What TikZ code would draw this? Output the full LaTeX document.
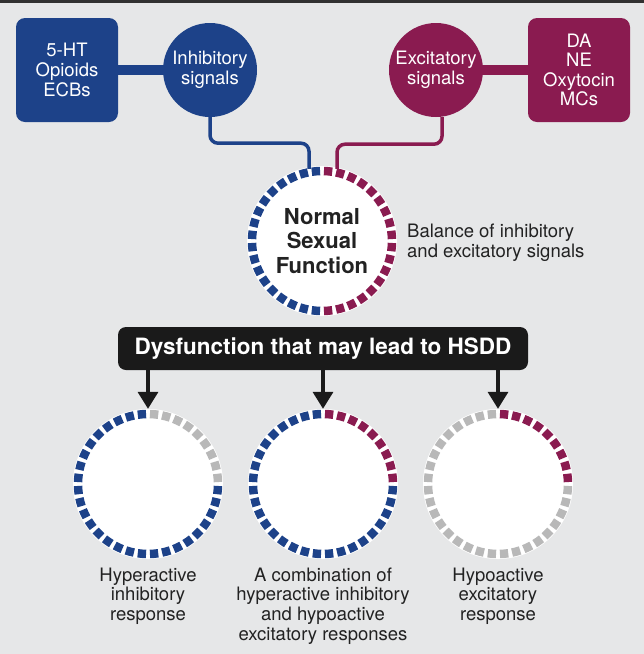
\documentclass[tikz,border=0pt]{standalone}
\usepackage{fontspec}
\setmainfont{TeX Gyre Heros}
\usetikzlibrary{arrows.meta,calc}
\definecolor{inhblue}{HTML}{1D4289}
\definecolor{excred}{HTML}{8A1B50}
\definecolor{dgrey}{HTML}{B8B8B8}
\definecolor{bgc}{HTML}{E6E7E8}
\definecolor{txt}{HTML}{222222}
\definecolor{banner}{HTML}{1A1A1A}
\newcommand{\dashring}[5]{%
  \foreach \k in {0,...,35}{%
    \pgfmathtruncatemacro\q{int(\k/9)}%
    \ifcase\q \def\rc{#2}\or \def\rc{#3}\or \def\rc{#4}\or \def\rc{#5}\fi
    \pgfmathsetmacro\th{5+10*\k}%
    \draw[line width=8.5pt, draw=\rc] (#1) ++(\th+3.4:70pt) arc[start angle=\th+3.4, end angle=\th-3.4, radius=70pt];
  }}
\tikzset{
  regtext/.style={font=\fontsize{18.5}{19.6}\selectfont, align=center, inner sep=0pt},
  boxnode/.style={rounded corners=9pt, minimum width=102pt, minimum height=104pt, inner sep=0pt, text=white, regtext},
  sigcirc/.style={circle, minimum size=94pt, inner sep=0pt, text=white, regtext},
  ringdisk/.style={circle, fill=white, minimum size=150pt, inner sep=0pt},
  bar/.style={line width=10pt},
  conn/.style={line width=3.5pt, rounded corners=8pt},
  arr/.style={line width=3.5pt, banner, -{Triangle[width=20pt,length=17pt]}},
  lab/.style={regtext, text=txt, anchor=north}
}
\begin{document}
\begin{tikzpicture}[x=1pt,y=-1pt]
\useasboundingbox (0,0) rectangle (644,654);
\fill[bgc] (0,0) rectangle (644,654);
\fill[banner!90] (0,0) rectangle (644,3);

% top row
\node[boxnode, fill=inhblue] (srcI) at (67,70) {5-HT\\Opioids\\ECBs};
\node[sigcirc, fill=inhblue] (inh) at (210,70) {Inhibitory\\signals};
\node[sigcirc, fill=excred] (exc) at (436,70) {Excitatory\\signals};
\node[boxnode, fill=excred] (srcE) at (579,70) {DA\\NE\\Oxytocin\\MCs};
\draw[bar, inhblue] (srcI.east) -- (inh.west);
\draw[bar, excred] (exc.east) -- (srcE.west);

% central circle
\node[ringdisk] (c0) at (322,241) {};
\draw[conn, inhblue] (inh.south) -- ++(0,26) -| ($(c0.north)+(-13,3)$);
\draw[conn, excred] ($(exc.south)+(6,0)$) -- ++(0,27) -| ($(c0.north)+(15,3)$);
\dashring{c0}{excred}{inhblue}{inhblue}{excred}
\node[font=\bfseries\fontsize{22}{24.5}\selectfont, align=center, text=txt, inner sep=0pt] (nsf) at (c0) {Normal\\Sexual\\Function};
\node[regtext, text=txt, align=left, anchor=west] (bal) at (407,242.5) {Balance of inhibitory\\and excitatory signals};

% banner
\node[fill=banner, rounded corners=8pt, minimum width=410pt, minimum height=43pt, inner sep=0pt, text=white, font=\bfseries\fontsize{22.5}{24}\selectfont] (dys) at (323,348.5) {Dysfunction that may lead to HSDD};

% bottom circles
\node[ringdisk] (c1) at (148,484) {};
\node[ringdisk] (c2) at (323,484) {};
\node[ringdisk] (c3) at (498,484) {};
\dashring{c1}{dgrey}{inhblue}{inhblue}{inhblue}
\dashring{c2}{excred}{inhblue}{inhblue}{inhblue}
\dashring{c3}{excred}{dgrey}{dgrey}{dgrey}

\draw[arr] (dys.south -| c1) -- (c1.north);
\draw[arr] (dys.south -| c2) -- (c2.north);
\draw[arr] (dys.south -| c3) -- (c3.north);

\node[lab] (l1) at (148,567.5) {Hyperactive\\inhibitory\\response};
\node[lab] (l2) at (323,567.5) {A combination of\\hyperactive inhibitory\\and hypoactive\\excitatory responses};
\node[lab] (l3) at (498,567.5) {Hypoactive\\excitatory\\response};
\end{tikzpicture}
\end{document}
